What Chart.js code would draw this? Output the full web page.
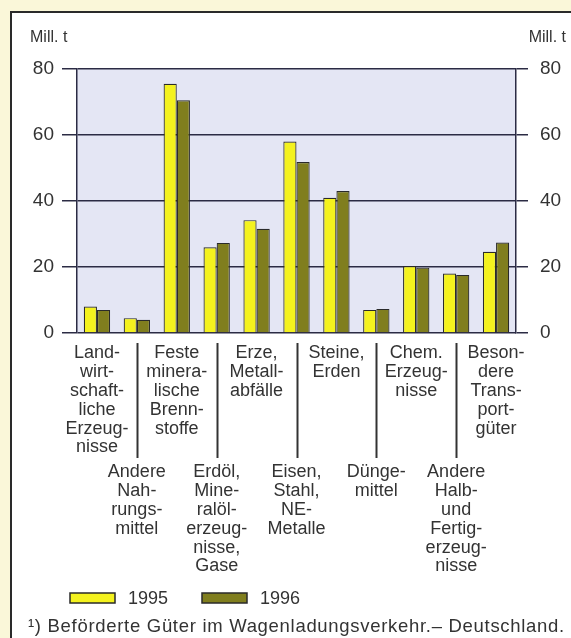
<!DOCTYPE html>
<html lang="de">
<head>
<meta charset="UTF-8">
<title>Wagenladungsverkehr 1995/1996</title>
<script src="https://cdn.jsdelivr.net/npm/chart.js"></script>
<style>
    html, body { margin: 0; padding: 0; }
    body {
        width: 571px;
        height: 638px;
        background: #faf7d9;
        position: relative;
        overflow: hidden;
    }
    .frame {
        position: absolute;
        left: 10px;
        top: 11px;
        width: 600px;
        height: 700px;
        border: 2px solid #2a2a2a;
        background: #ffffff;
    }
    .wrap {
        position: absolute;
        left: 0;
        top: 0;
        width: 571px;
        height: 638px;
    }
</style>
</head>
<body>
<div class="frame"></div>
<div class="wrap"><canvas id="chart" width="571" height="638"></canvas></div>

<script>
// Mill. t
const categories = [
    ['Land-', 'wirt-', 'schaft-', 'liche', 'Erzeug-', 'nisse'],
    ['Andere', 'Nah-', 'rungs-', 'mittel'],
    ['Feste', 'minera-', 'lische', 'Brenn-', 'stoffe'],
    ['Erdöl,', 'Mine-', 'ralöl-', 'erzeug-', 'nisse,', 'Gase'],
    ['Erze,', 'Metall-', 'abfälle'],
    ['Eisen,', 'Stahl,', 'NE-', 'Metalle'],
    ['Steine,', 'Erden'],
    ['Dünge-', 'mittel'],
    ['Chem.', 'Erzeug-', 'nisse'],
    ['Andere', 'Halb-', 'und', 'Fertig-', 'erzeug-', 'nisse'],
    ['Beson-', 'dere', 'Trans-', 'port-', 'güter']
];
const values1995 = [8, 4.5, 75.5, 26, 34.2, 58, 41, 7, 20.3, 18, 24.6];
const values1996 = [7, 4, 70.5, 27.3, 31.6, 51.8, 43, 7.3, 19.8, 17.6, 27.4];
const yTicks = [0, 20, 40, 60, 80];
const seriesNames = ['1995', '1996'];
const footnote = '\u00B9) Beförderte Güter im Wagenladungsverkehr.\u2013 Deutschland.';

const textColor = '#333333';
const gridColor = '#2b2b44';
const fontFamily = '"Liberation Sans", Arial, sans-serif';

// shaded plot area
const plotBackground = {
    id: 'plotBackground',
    beforeDraw(chart) {
        const a = chart.chartArea;
        const ctx = chart.ctx;
        ctx.save();
        ctx.fillStyle = '#e4e6f4';
        ctx.fillRect(a.left, a.top, a.right - a.left, a.bottom - a.top);
        ctx.restore();
    }
};

// category labels in two rows, unit labels, legend, footnote
const extras = {
    id: 'extras',
    afterDraw(chart) {
        const ctx = chart.ctx;
        const x = chart.scales.x;
        ctx.save();
        ctx.fillStyle = textColor;
        ctx.textBaseline = 'middle';

        ctx.font = '16px ' + fontFamily;
        ctx.textAlign = 'left';
        ctx.fillText('Mill. t', 30, 38);
        ctx.textAlign = 'right';
        ctx.fillText('Mill. t', 566, 38);

        ctx.font = '18px ' + fontFamily;
        ctx.textAlign = 'center';
        categories.forEach((lines, i) => {
            const cx = x.getPixelForValue(i);
            const y0 = i % 2 === 0 ? 353 : 472;
            lines.forEach((t, j) => ctx.fillText(t, cx, y0 + j * 18.9));
            if (i % 2 === 1) {
                ctx.strokeStyle = '#333333';
                ctx.lineWidth = 2;
                ctx.beginPath();
                ctx.moveTo(Math.round(cx) + 0.5, 343);
                ctx.lineTo(Math.round(cx) + 0.5, 458);
                ctx.stroke();
            }
        });

        // legend
        const legendX = [70, 202];
        ctx.font = '18px ' + fontFamily;
        chart.data.datasets.forEach((ds, k) => {
            const bx = legendX[k];
            ctx.fillStyle = ds.backgroundColor;
            ctx.fillRect(bx, 593, 45, 10);
            ctx.strokeStyle = '#2a2a2a';
            ctx.lineWidth = 1.5;
            ctx.strokeRect(bx, 593, 45, 10);
            ctx.fillStyle = textColor;
            ctx.textAlign = 'left';
            ctx.fillText(ds.label, bx + 58, 599);
        });

        ctx.font = '18.5px ' + fontFamily;
        ctx.letterSpacing = '0.7px';
        ctx.textAlign = 'left';
        ctx.fillText(footnote, 28, 627);
        ctx.restore();
    }
};

new Chart(document.getElementById('chart'), {
    type: 'bar',
    data: {
        labels: categories.map(c => c.join(' ')),
        datasets: [
            {
                label: seriesNames[0],
                data: values1995,
                backgroundColor: '#f4f21e',
                borderColor: '#2a2a2a',
                borderWidth: 1.2
            },
            {
                label: seriesNames[1],
                data: values1996,
                backgroundColor: '#807e1e',
                borderColor: '#2a2a2a',
                borderWidth: 1.2
            }
        ]
    },
    options: {
        responsive: false,
        animation: false,
        events: [],
        layout: { padding: { top: 69, bottom: 305, left: 0, right: 0 } },
        datasets: { bar: { categoryPercentage: 0.66, barPercentage: 1.0 } },
        plugins: {
            legend: { display: false },
            tooltip: { enabled: false }
        },
        scales: {
            x: {
                display: false,
                grid: { display: false }
            },
            y: {
                position: 'left',
                min: 0,
                max: 80,
                afterFit(scale) { scale.width = 77; },
                afterBuildTicks(scale) { scale.ticks = yTicks.map(v => ({ value: v })); },
                border: { display: true, color: gridColor, width: 1.5 },
                grid: { color: gridColor, lineWidth: 1.5, tickLength: 15 },
                ticks: {
                    color: textColor,
                    padding: 8,
                    font: { family: fontFamily, size: 19 }
                }
            },
            y2: {
                position: 'right',
                min: 0,
                max: 80,
                afterFit(scale) { scale.width = 55; },
                afterBuildTicks(scale) { scale.ticks = yTicks.map(v => ({ value: v })); },
                border: { display: true, color: gridColor, width: 1.5 },
                grid: { drawOnChartArea: false, color: gridColor, lineWidth: 1.5, tickLength: 12 },
                ticks: {
                    color: textColor,
                    padding: 12,
                    font: { family: fontFamily, size: 19 }
                }
            }
        }
    },
    plugins: [plotBackground, extras]
});
</script>
</body>
</html>
